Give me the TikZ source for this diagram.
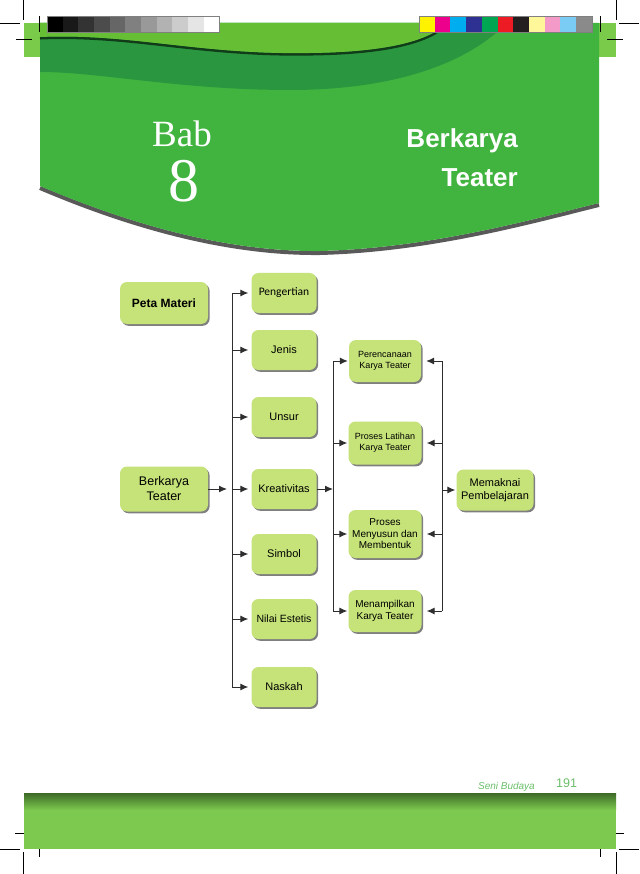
\documentclass[tikz,border=0pt]{standalone}
\usepackage{fontspec}
\usetikzlibrary{arrows.meta,shadows}
\newfontfamily\arial{Liberation Sans}
\newfontfamily\carlito{Carlito}
\newfontfamily\timesf{Liberation Serif}
\definecolor{stripgreen}{HTML}{7ACB4A}
\definecolor{lightgreen}{HTML}{66BE35}
\definecolor{maingreen}{HTML}{41B440}
\definecolor{darkgreen}{HTML}{2A963F}
\definecolor{footgreen}{HTML}{7DC94F}
\definecolor{footdark}{HTML}{3E6A27}
\definecolor{boxgreen}{HTML}{C6E379}
\definecolor{linegray}{HTML}{2E2E2E}
\definecolor{pagegreen}{HTML}{6BBF6B}
\definecolor{cY}{HTML}{FFF200}
\definecolor{cM}{HTML}{EC008C}
\definecolor{cC}{HTML}{00AEEF}
\definecolor{cB}{HTML}{2E3192}
\definecolor{cG}{HTML}{00A651}
\definecolor{cR}{HTML}{ED1C24}
\definecolor{cK}{HTML}{231F20}
\definecolor{cLY}{HTML}{FFF799}
\definecolor{cP}{HTML}{F49AC8}
\definecolor{cLC}{HTML}{7ACCF5}
\definecolor{cGr}{HTML}{8A8A8A}
\tikzset{
  cropmark/.style={black, line width=0.6pt},
  box/.style={rounded corners=7pt, fill=boxgreen, align=center, inner sep=1pt,
    minimum width=65pt, minimum height=40pt, font=\arial\fontsize{11}{13}\selectfont,
    drop shadow={shadow xshift=1.6pt, shadow yshift=-1.8pt, fill=black, opacity=.5}},
  conn/.style={linegray, line width=1pt},
  arr/.style={conn, -{Latex[length=8pt,width=7pt]}},
}
\begin{document}
\begin{tikzpicture}[x=1pt,y=-1pt]
\useasboundingbox (0,0) rectangle (639,874);
\fill[white] (0,0) rectangle (639,874);
% header
\fill[stripgreen] (24,23) rectangle (616,57);
\draw[black, opacity=.65, line width=4pt, yshift=-2pt]
  (40,186) .. controls (120,220) and (220,252) .. (320,251) .. controls (430,248) and (530,220) .. (599,203);
\fill[maingreen] (40,23) -- (599,23) -- (599,203) .. controls (530,220) and (430,248) .. (320,251)
  .. controls (220,252) and (120,220) .. (40,186) -- cycle;
\fill[darkgreen] (40,23) -- (507,23) .. controls (460,70) and (380,90) .. (290,90)
  .. controls (180,90) and (100,72) .. (40,72) -- cycle;
\draw[black, opacity=.6, line width=2.5pt, yshift=-1.3pt]
  (40,37) .. controls (130,33) and (200,55) .. (310,53) .. controls (390,52) and (430,40) .. (447,23);
\fill[lightgreen] (40,23) -- (40,37) .. controls (130,33) and (200,55) .. (310,53)
  .. controls (390,52) and (430,40) .. (447,23) -- cycle;
% swatches
\foreach \c [count=\i from 0] in {black,black!90,black!80,black!70,black!60,black!50,black!40,black!30,black!20,black!10,white}
  \fill[\c] ({47+\i*15.65},16) rectangle ++(15.65,16);
\draw[gray, line width=0.6pt] (47,16) rectangle (219,32);
\foreach \c [count=\i from 0] in {cY,cM,cC,cB,cG,cR,cK,cLY,cP,cLC,cGr}
  \fill[\c] ({419+\i*15.7},16) rectangle ++(15.7,16);
\draw[gray, line width=0.6pt] (419,16) rectangle (592,32);
% crop marks
\draw[cropmark] (23,0) -- (23,20) (0,23) -- (20,23) (16,39) -- (32,39) (39,16) -- (39,32);
\draw[cropmark] (616,0) -- (616,20) (619,23) -- (639,23) (607,39) -- (623,39) (600,16) -- (600,32);
\draw[cropmark] (23,852) -- (23,874) (0,849) -- (20,849) (15,833) -- (32,833) (39,840) -- (39,857);
\draw[cropmark] (616,852) -- (616,874) (619,849) -- (639,849) (607,833) -- (624,833) (600,840) -- (600,857);
% title
\node[white, anchor=base west, inner sep=0pt, font=\timesf\fontsize{37}{37}\selectfont] (bab) at (152,147) {Bab};
\node[white, anchor=base, inner sep=0pt, font=\timesf\fontsize{62}{62}\selectfont] (num) at (184,202) {8};
\node[white, anchor=base east, inner sep=0pt, font=\arial\bfseries\fontsize{26}{26}\selectfont] (t1) at (518,148) {Berkarya};
\node[white, anchor=base east, inner sep=0pt, font=\arial\bfseries\fontsize{26}{26}\selectfont] (t2) at (518,187) {Teater};
% footer
\fill[footgreen] (24,793) rectangle (616,849);
\shade[top color=footdark, bottom color=footgreen] (24,793) rectangle (616,810);
\node[pagegreen, anchor=base east, inner sep=0pt, font=\arial\itshape\fontsize{10}{10}\selectfont] (seni) at (535,789) {Seni Budaya};
\node[pagegreen, anchor=base west, inner sep=0pt, font=\arial\fontsize{12.5}{12.5}\selectfont] (page) at (556,787) {191};
% diagram nodes
\node[box, minimum width=88pt, minimum height=42pt, font=\arial\bfseries\fontsize{12}{14}\selectfont] (pm) at (164,303) {Peta Materi};
\node[box, minimum width=88pt, minimum height=45pt, font=\arial\fontsize{12.5}{15}\selectfont] (bt) at (164,489) {Berkarya\\Teater};
\node[box, font=\carlito\fontsize{11.5}{13}\selectfont] (pen) at (284,293) {Pengertian};
\node[box] (jen) at (284,350) {Jenis};
\node[box] (uns) at (284,417) {Unsur};
\node[box] (kre) at (284,489) {Kreativitas};
\node[box] (sim) at (284,554) {Simbol};
\node[box, font=\arial\fontsize{10.5}{13}\selectfont] (nil) at (284,619) {Nilai Estetis};
\node[box] (nas) at (284,687) {Naskah};
\node[box, minimum width=72pt, minimum height=42pt, font=\arial\fontsize{9}{11}\selectfont] (per) at (385,361) {Perencanaan\\Karya Teater};
\node[box, minimum width=73pt, minimum height=43pt, font=\arial\fontsize{9}{11}\selectfont] (pla) at (385,443) {Proses Latihan\\Karya Teater};
\node[box, minimum width=73pt, minimum height=48pt, font=\arial\fontsize{10}{11.5}\selectfont] (pmm) at (385,534) {Proses\\Menyusun dan\\Membentuk};
\node[box, minimum width=73pt, minimum height=42pt, font=\arial\fontsize{10}{11.5}\selectfont] (men) at (385,611) {Menampilkan\\Karya Teater};
\node[box, minimum width=77pt, minimum height=41pt, font=\arial\fontsize{11}{13}\selectfont] (mem) at (495,490) {Memaknai\\Pembelajaran};
% connector coordinates
\coordinate (L) at (232,0);
\coordinate (M) at (333,0);
\coordinate (R) at (442,0);
% left fan
\draw[conn] (L |- pen) -- (L |- nas);
\foreach \n in {pen,jen,uns,kre,sim,nil,nas}
  \draw[arr, shorten >=3pt] (L |- \n) -- (\n);
\draw[arr, shorten >=5pt] (bt) -- (L |- bt);
% middle fan
\draw[arr] (kre) -- (M |- kre);
\draw[conn] (M |- per) -- (M |- men);
\foreach \n in {per,pla,pmm,men}
  \draw[arr, shorten >=1pt] (M |- \n) -- (\n);
% right fan
\draw[conn] (R |- per) -- (R |- men);
\foreach \n in {per,pla,pmm,men}
  \draw[arr, shorten >=5pt] (R |- \n) -- (\n);
\draw[arr, shorten >=1pt] (R |- mem) -- (mem);
\end{tikzpicture}
\end{document}
